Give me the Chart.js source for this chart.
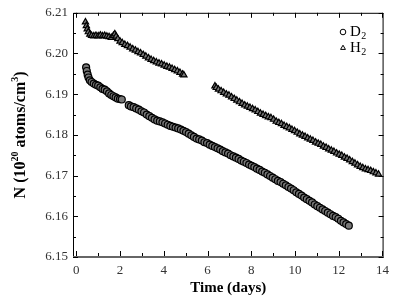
<!DOCTYPE html>
<html>
<head>
<meta charset="utf-8">
<script src="https://cdn.jsdelivr.net/npm/chart.js@4.4.1/dist/chart.umd.min.js"></script>
<style>
  html, body { margin: 0; padding: 0; background: #fff; }
  #wrap { width: 395px; height: 298px; }
</style>
</head>
<body>
<div id="wrap"><canvas id="chart" width="395" height="298"></canvas></div>
<script>
// Tick positions
const xTickValues = [0, 2, 4, 6, 8, 10, 12, 14];
const xMinorTicks = [1, 3, 5, 7, 9, 11, 13];
const yTickValues = [6.15, 6.16, 6.17, 6.18, 6.19, 6.20, 6.21];
const yMinorTicks = [6.155, 6.165, 6.175, 6.185, 6.195, 6.205];

// D2 (circles) – time in days, N in 1e20 atoms/cm3
const d2Days = [
  0.45, 0.48, 0.52, 0.56, 0.62, 0.70, 0.80, 0.90, 1.00, 1.10, 1.20, 1.30, 1.40, 1.50, 1.60, 1.70, 1.80, 1.90, 2.00, 2.08,
  2.40, 2.50, 2.62, 2.74, 2.86, 2.98, 3.10, 3.22, 3.34, 3.46, 3.58, 3.70, 3.82, 3.94, 4.06, 4.18, 4.30, 4.42, 4.54, 4.66,
  4.78, 4.90, 5.02, 5.14, 5.26, 5.38, 5.50, 5.62, 5.74, 5.86, 5.98, 6.10, 6.22, 6.34, 6.46, 6.58, 6.70, 6.82, 6.94, 7.06,
  7.18, 7.30, 7.42, 7.54, 7.66, 7.78, 7.90, 8.02, 8.14, 8.26, 8.38, 8.50, 8.62, 8.74, 8.86, 8.98, 9.10, 9.22, 9.34, 9.46,
  9.58, 9.70, 9.82, 9.94, 10.06, 10.18, 10.30, 10.42, 10.54, 10.66, 10.78, 10.90, 11.02, 11.14, 11.26, 11.38, 11.50, 11.62,
  11.74, 11.86, 11.98, 12.10, 12.22, 12.34, 12.46
];
const d2N = [
  6.1966, 6.1957, 6.1948, 6.1941, 6.1934, 6.1930, 6.1926, 6.1923, 6.1921, 6.1917, 6.1913, 6.1911, 6.1907, 6.1902, 6.1898, 6.1895, 6.1892, 6.1889, 6.1888, 6.1887,
  6.1873, 6.1870, 6.1868, 6.1865, 6.1862, 6.1858, 6.1855, 6.1850, 6.1846, 6.1842, 6.1838, 6.1835, 6.1833, 6.1831, 6.1828, 6.1825, 6.1822, 6.1820, 6.1818, 6.1816,
  6.1813, 6.1810, 6.1807, 6.1803, 6.1799, 6.1795, 6.1791, 6.1789, 6.1786, 6.1782, 6.1780, 6.1776, 6.1773, 6.1770, 6.1767, 6.1764, 6.1760, 6.1757, 6.1754, 6.1750,
  6.1747, 6.1744, 6.1741, 6.1737, 6.1734, 6.1731, 6.1727, 6.1724, 6.1721, 6.1717, 6.1714, 6.1710, 6.1707, 6.1703, 6.1699, 6.1695, 6.1691, 6.1687, 6.1684, 6.1680,
  6.1676, 6.1672, 6.1668, 6.1664, 6.1659, 6.1655, 6.1651, 6.1646, 6.1642, 6.1638, 6.1634, 6.1629, 6.1625, 6.1621, 6.1617, 6.1613, 6.1609, 6.1605,
  6.1601, 6.1598, 6.1594, 6.1589, 6.1585, 6.1581, 6.1577
];

// H2 (triangles)
const h2Days = [
  0.42, 0.46, 0.50, 0.55, 0.62, 0.70, 0.80, 0.90, 1.00, 1.10, 1.20, 1.30, 1.40, 1.50, 1.60, 1.70, 1.76, 1.82, 1.90, 2.00,
  2.10, 2.22, 2.34, 2.46, 2.58, 2.70, 2.82, 2.94, 3.06, 3.18, 3.30, 3.42, 3.54, 3.66, 3.78, 3.90, 4.02, 4.14, 4.26, 4.38,
  4.50, 4.62, 4.74, 4.86, 4.92,
  6.34, 6.40, 6.50, 6.62, 6.74, 6.86, 6.98, 7.10, 7.22, 7.34, 7.46, 7.58, 7.70, 7.82, 7.94, 8.06, 8.18, 8.30, 8.42, 8.54,
  8.66, 8.78, 8.90, 9.02, 9.14, 9.26, 9.38, 9.50, 9.62, 9.74, 9.86, 9.98, 10.10, 10.22, 10.34, 10.46, 10.58, 10.70, 10.82, 10.94,
  11.06, 11.18, 11.30, 11.42, 11.54, 11.66, 11.78, 11.90, 12.02, 12.14, 12.26, 12.38, 12.50, 12.62, 12.74, 12.86, 12.98, 13.10,
  13.22, 13.34, 13.46, 13.58, 13.70, 13.82
];
const h2N = [
  6.2077, 6.2068, 6.2060, 6.2053, 6.2047, 6.2044, 6.2043, 6.2044, 6.2043, 6.2045, 6.2043, 6.2044, 6.2042, 6.2041, 6.2039, 6.2044, 6.2048, 6.2042, 6.2036, 6.2030,
  6.2026, 6.2022, 6.2019, 6.2015, 6.2011, 6.2008, 6.2004, 6.2001, 6.1997, 6.1993, 6.1989, 6.1985, 6.1982, 6.1979, 6.1976, 6.1974, 6.1971, 6.1968, 6.1966, 6.1963,
  6.1960, 6.1957, 6.1953, 6.1949, 6.1947,
  6.1920, 6.1916, 6.1912, 6.1908, 6.1904, 6.1900, 6.1897, 6.1893, 6.1889, 6.1885, 6.1881, 6.1877, 6.1873, 6.1870, 6.1867, 6.1864, 6.1861, 6.1857, 6.1853, 6.1850,
  6.1847, 6.1844, 6.1842, 6.1838, 6.1833, 6.1830, 6.1827, 6.1823, 6.1820, 6.1817, 6.1813, 6.1810, 6.1806, 6.1802, 6.1799, 6.1796, 6.1792, 6.1789, 6.1786, 6.1782,
  6.1779, 6.1776, 6.1772, 6.1769, 6.1765, 6.1762, 6.1759, 6.1755, 6.1752, 6.1749, 6.1745, 6.1742, 6.1738, 6.1734, 6.1730, 6.1726, 6.1722, 6.1719,
  6.1716, 6.1714, 6.1712, 6.1709, 6.1706, 6.1703
];

const FONT = "'Liberation Serif', 'DejaVu Serif', serif";

const toPoints = (xs, ys) => xs.map((v, i) => ({ x: v, y: ys[i] }));

// Inward ticks on all four sides plus frame, y title with superscripts and legend
const framePlugin = {
  id: 'framePlugin',
  afterDraw(chart) {
    const { ctx, chartArea: a, scales: { x, y } } = chart;
    ctx.save();

    // frame
    ctx.strokeStyle = '#000';
    ctx.lineWidth = 1;
    ctx.beginPath();
    ctx.moveTo(a.left + 0.5, a.bottom);
    ctx.lineTo(a.left + 0.5, a.top + 0.5);
    ctx.lineTo(a.right - 0.5, a.top + 0.5);
    ctx.lineTo(a.right - 0.5, a.bottom);
    ctx.stroke();
    ctx.strokeStyle = '#666';
    ctx.lineWidth = 2;
    ctx.beginPath();
    ctx.moveTo(a.left, a.bottom);
    ctx.lineTo(a.right, a.bottom);
    ctx.stroke();

    // ticks
    ctx.strokeStyle = '#000';
    ctx.lineWidth = 1;
    const tick = (x1, y1, x2, y2) => {
      ctx.beginPath(); ctx.moveTo(x1, y1); ctx.lineTo(x2, y2); ctx.stroke();
    };
    xTickValues.concat(xMinorTicks).forEach(v => {
      const len = xTickValues.includes(v) ? 5 : 3;
      const px = Math.round(x.getPixelForValue(v)) + 0.5;
      tick(px, a.bottom - 1, px, a.bottom - 1 - len);
      tick(px, a.top, px, a.top + len);
    });
    yTickValues.concat(yMinorTicks).forEach(v => {
      const len = yTickValues.includes(v) ? 5 : 3;
      const py = Math.round(y.getPixelForValue(v)) + 0.5;
      tick(a.left, py, a.left + len, py);
      tick(a.right, py, a.right - len, py);
    });

    // y title with superscripts
    const parts = [
      { t: 'N (10', f: 'bold 16px ' + FONT, dy: 0 },
      { t: '20', f: 'bold 10px ' + FONT, dy: -7 },
      { t: ' atoms/cm', f: 'bold 16px ' + FONT, dy: 0 },
      { t: '3', f: 'bold 10px ' + FONT, dy: -7 },
      { t: ')', f: 'bold 16px ' + FONT, dy: 0 }
    ];
    let total = 0;
    parts.forEach(p => { ctx.font = p.f; p.w = ctx.measureText(p.t).width; total += p.w; });
    ctx.translate(25, (a.top + a.bottom) / 2);
    ctx.rotate(-Math.PI / 2);
    ctx.fillStyle = '#000';
    ctx.textBaseline = 'alphabetic';
    let cx = -total / 2;
    parts.forEach(p => { ctx.font = p.f; ctx.fillText(p.t, cx, p.dy); cx += p.w; });
    ctx.setTransform(1, 0, 0, 1, 0, 0);

    // legend
    const items = [
      { style: 'circle', label: 'D', y: 32 },
      { style: 'triangle', label: 'H', y: 48 }
    ];
    items.forEach(it => {
      ctx.strokeStyle = '#000';
      ctx.fillStyle = '#fff';
      ctx.lineWidth = 1;
      Chart.helpers.drawPoint(ctx, { pointStyle: it.style, radius: 2.8, rotation: 0, borderWidth: 1 }, 343, it.y);
      ctx.fillStyle = '#000';
      ctx.textBaseline = 'middle';
      ctx.font = '15px ' + FONT;
      ctx.fillText(it.label, 350, it.y);
      const w = ctx.measureText(it.label).width;
      ctx.font = '10px ' + FONT;
      ctx.fillText('2', 350 + w + 0.5, it.y + 4);
    });
    ctx.restore();
  }
};

new Chart(document.getElementById('chart'), {
  type: 'scatter',
  data: {
    datasets: [
      {
        label: 'D2',
        data: toPoints(d2Days, d2N),
        pointStyle: 'circle',
        pointRadius: 3.5,
        borderWidth: 1.2,
        borderColor: '#000',
        backgroundColor: '#777'
      },
      {
        label: 'H2',
        data: toPoints(h2Days, h2N),
        pointStyle: 'triangle',
        pointRadius: 3.6,
        borderWidth: 1.2,
        borderColor: '#000',
        backgroundColor: '#777'
      }
    ]
  },
  options: {
    responsive: false,
    animation: false,
    events: [],
    layout: { padding: { top: 12, right: 3, left: 0, bottom: 0 }, autoPadding: false },
    plugins: {
      legend: { display: false },
      tooltip: { enabled: false }
    },
    scales: {
      x: {
        type: 'linear',
        min: -0.15,
        max: 14.05,
        afterBuildTicks: s => { s.ticks = xTickValues.map(v => ({ value: v })); },
        afterFit: s => { s.height = 41; },
        grid: { display: false, drawTicks: false },
        border: { display: false },
        ticks: { color: '#333', padding: 6, font: { family: FONT, size: 13 }, maxRotation: 0 },
        title: {
          display: true,
          text: 'Time (days)',
          color: '#000',
          font: { family: FONT, size: 15, weight: 'bold' },
          padding: { top: 0, bottom: 1 }
        }
      },
      y: {
        type: 'linear',
        min: 6.15,
        max: 6.21,
        afterBuildTicks: s => { s.ticks = yTickValues.map(v => ({ value: v })); },
        afterFit: s => { s.width = 73; },
        grid: { display: false, drawTicks: false },
        border: { display: false },
        ticks: {
          color: '#333',
          padding: 5,
          font: { family: FONT, size: 13 },
          callback: v => Number(v).toFixed(2)
        }
      }
    }
  }
  ,
  plugins: [framePlugin]
});
</script>
</body>
</html>
